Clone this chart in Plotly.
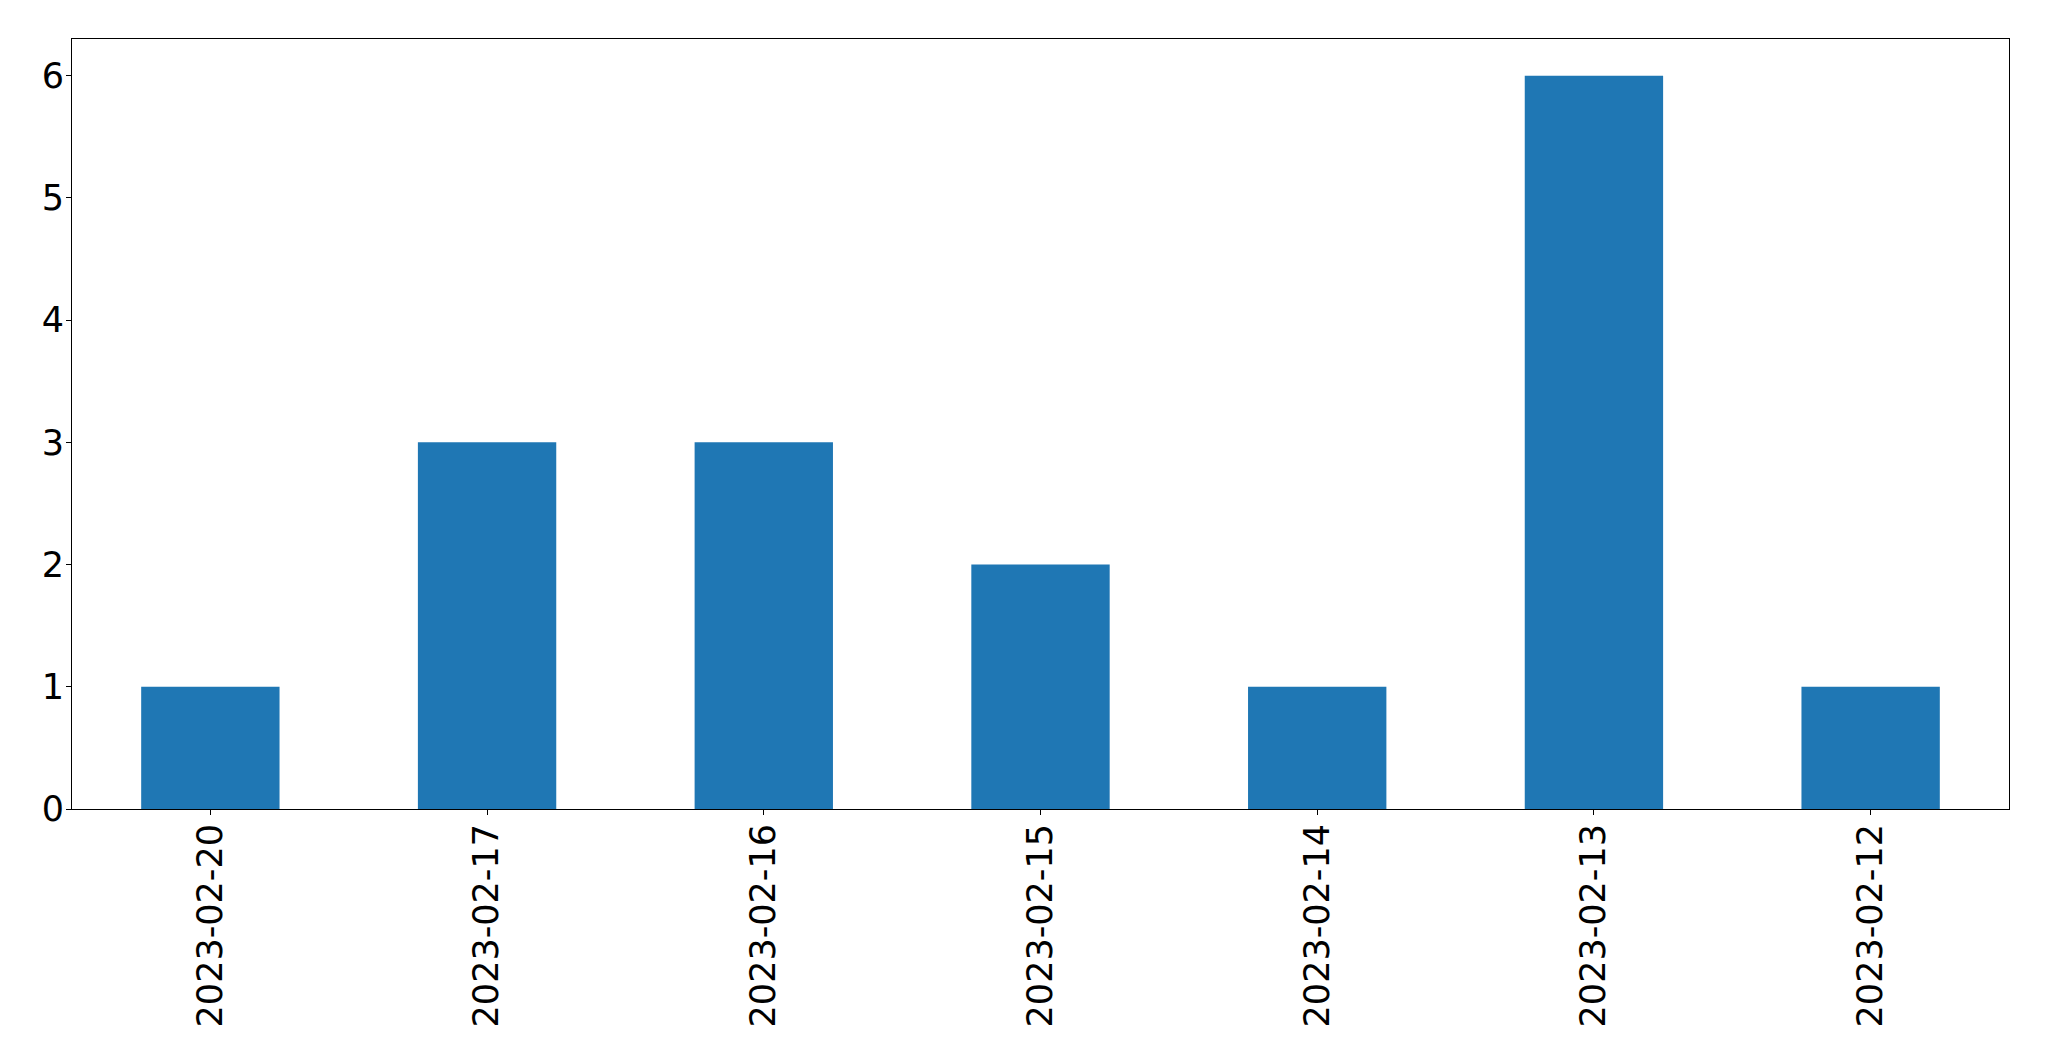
import plotly.graph_objects as go

dates = ["2023-02-20", "2023-02-17", "2023-02-16", "2023-02-15",
         "2023-02-14", "2023-02-13", "2023-02-12"]
counts = [1, 3, 3, 2, 1, 6, 1]
y_ticks = [0, 1, 2, 3, 4, 5, 6]

fig = go.Figure(go.Bar(x=dates, y=counts, width=0.5, marker_color="#1f77b4",
                       marker_line_width=0))

axis_common = dict(showline=True, linecolor="black", linewidth=1, mirror=True,
                   ticks="outside", ticklen=5, tickwidth=1, tickcolor="black",
                   showgrid=False, zeroline=False, automargin=False,
                   ticklabelstandoff=-5,
                   tickfont=dict(family="DejaVu Sans", size=35, color="black"))

fig.update_xaxes(type="category", range=[-0.5, 6.5], tickangle=-90,
                 categoryorder="array", categoryarray=dates, **axis_common)
fig.update_yaxes(range=[0, 6.3], tickvals=y_ticks, **axis_common)

# page body has an 8px margin, so the figure is offset by 8px
fig.update_layout(width=2033, height=1045, plot_bgcolor="white", paper_bgcolor="white",
                  margin=dict(l=64, r=32, t=31, b=244), showlegend=False,
                  font=dict(family="DejaVu Sans"))

fig.write_html("out.html")
